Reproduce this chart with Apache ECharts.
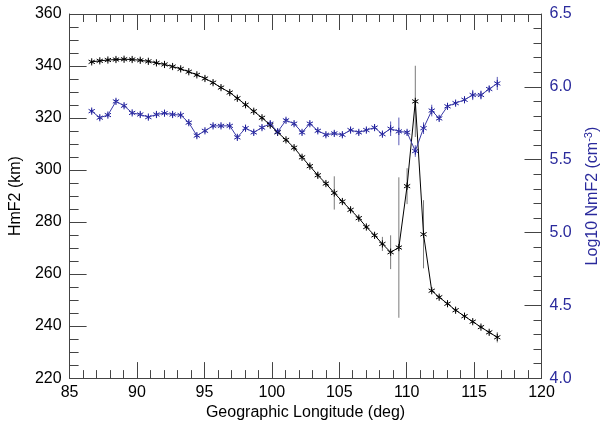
<!DOCTYPE html>
<html>
<head>
<meta charset="utf-8">
<script src="https://cdn.jsdelivr.net/npm/echarts@6/dist/echarts.min.js"></script>
<style>
html,body{margin:0;padding:0;background:#fff;}
#chart{width:609px;height:426px;}
</style>
</head>
<body>
<div id="chart"></div>
<script>
// Geographic longitude of each sample (deg)
const longitude = [86.64, 87.24, 87.84, 88.44, 89.04, 89.64, 90.24, 90.84, 91.44, 92.04,
  92.64, 93.24, 93.84, 94.44, 95.04, 95.64, 96.23, 96.88, 97.44, 98.05,
  98.66, 99.27, 99.88, 100.43, 101.05, 101.65, 102.24, 102.82, 103.41, 104.01,
  104.63, 105.23, 105.84, 106.45, 107.01, 107.62, 108.20, 108.81, 109.42, 110.03,
  110.64, 111.25, 111.86, 112.41, 113.03, 113.63, 114.29, 114.90, 115.51, 116.12, 116.72];
// HmF2 (km), left axis
const hmf2 = [341.6, 342.0, 342.3, 342.5, 342.6, 342.5, 342.2, 341.8, 341.2, 340.6,
  339.8, 338.9, 337.8, 336.6, 335.2, 333.6, 331.7, 329.8, 327.6, 325.1,
  322.6, 320.1, 317.3, 314.5, 311.6, 308.6, 304.9, 301.5, 298.0, 294.8,
  291.2, 287.9, 284.7, 281.5, 278.1, 274.9, 271.6, 268.4, 270.2, 293.8,
  326.4, 275.3, 253.6, 251.1, 248.6, 246.1, 243.8, 241.7, 239.6, 237.6, 235.7];
const hmf2Err = [0.8, 0.8, 0.8, 0.8, 0.8, 0.8, 0.8, 0.8, 0.8, 0.8,
  0.8, 0.8, 0.8, 0.8, 0.8, 0.8, 0.8, 0.8, 0.8, 0.8,
  0.8, 0.8, 0.8, 0.8, 0.8, 0.8, 0.8, 0.8, 1.2, 0.8,
  6.4, 0.8, 0.8, 0.8, 0.8, 0.8, 2.7, 6.5, 27.0, 6.9,
  13.7, 13.1, 0.8, 0.8, 0.8, 0.8, 0.8, 0.8, 0.8, 0.8, 2.0];
// Log10 NmF2 (cm^-3), right axis
const nmf2 = [5.833, 5.788, 5.806, 5.900, 5.870, 5.821, 5.810, 5.792, 5.810, 5.819,
  5.810, 5.806, 5.754, 5.665, 5.698, 5.732, 5.732, 5.732, 5.653, 5.716,
  5.687, 5.720, 5.747, 5.691, 5.770, 5.747, 5.687, 5.747, 5.698, 5.671,
  5.680, 5.671, 5.703, 5.687, 5.703, 5.720, 5.675, 5.712, 5.694, 5.687,
  5.559, 5.716, 5.837, 5.783, 5.866, 5.888, 5.911, 5.944, 5.944, 5.985, 6.023];
const nmf2Err = [0.015, 0.015, 0.015, 0.015, 0.015, 0.015, 0.015, 0.015, 0.015, 0.015,
  0.015, 0.015, 0.015, 0.015, 0.015, 0.015, 0.015, 0.015, 0.015, 0.015,
  0.015, 0.015, 0.015, 0.015, 0.015, 0.015, 0.015, 0.015, 0.015, 0.015,
  0.015, 0.015, 0.015, 0.015, 0.015, 0.015, 0.015, 0.05, 0.095, 0.015,
  0.04, 0.04, 0.04, 0.015, 0.015, 0.015, 0.015, 0.035, 0.03, 0.02, 0.045];

const BLUE = '#2a2a9c';
const BLUE_LINE = '#3a3aa8';
const FONT = 'Liberation Sans, Arial, Helvetica, sans-serif';

function makeRender(color, errColor) {
  return function (params, api) {
    const x = api.value(0), y = api.value(1), e = api.value(2);
    const c = api.coord([x, y]);
    const lo = api.coord([x, y - e]);
    const hi = api.coord([x, y + e]);
    const r = 3.6, dx = r * 0.866, dy = r * 0.5;
    const st = {stroke: color, lineWidth: 1};
    return {
      type: 'group',
      children: [
        {type: 'line', shape: {x1: c[0], y1: lo[1], x2: c[0], y2: hi[1]}, style: {stroke: errColor, lineWidth: 1}},
        {type: 'line', shape: {x1: c[0], y1: c[1] - r, x2: c[0], y2: c[1] + r}, style: st},
        {type: 'line', shape: {x1: c[0] - dx, y1: c[1] - dy, x2: c[0] + dx, y2: c[1] + dy}, style: st},
        {type: 'line', shape: {x1: c[0] - dx, y1: c[1] + dy, x2: c[0] + dx, y2: c[1] - dy}, style: st}
      ]
    };
  };
}

const axisLine = {show: true, lineStyle: {color: '#444', width: 1}};
const chart = echarts.init(document.getElementById('chart'), null, {renderer: 'canvas'});
chart.setOption({
  animation: false,
  backgroundColor: '#fff',
  textStyle: {fontFamily: FONT},
  grid: {left: 68, right: 62, top: 14, bottom: 40, containLabel: false},
  xAxis: [{
    type: 'value', position: 'bottom', min: 85, max: 120, interval: 5,
    axisLine: axisLine,
    axisTick: {show: true, inside: true, length: 16, lineStyle: {color: '#444'}},
    minorTick: {show: true, splitNumber: 5, length: 8, lineStyle: {color: '#444'}},
    splitLine: {show: false}, minorSplitLine: {show: false},
    axisLabel: {color: '#000', fontSize: 16, margin: 6, fontFamily: FONT},
    name: 'Geographic Longitude (deg)', nameLocation: 'middle', nameGap: 22,
    nameTextStyle: {color: '#000', fontSize: 16, fontFamily: FONT}
  }, {
    type: 'value', position: 'top', min: 85, max: 120, interval: 5,
    axisLine: axisLine,
    axisTick: {show: true, inside: true, length: 16, lineStyle: {color: '#444'}},
    minorTick: {show: true, splitNumber: 5, length: 8, lineStyle: {color: '#444'}},
    splitLine: {show: false},
    axisLabel: {show: false}
  }],
  yAxis: [{
    type: 'value', position: 'left', min: 220, max: 360, interval: 20,
    axisLine: axisLine,
    axisTick: {show: true, inside: true, length: 17, lineStyle: {color: '#444'}},
    minorTick: {show: true, splitNumber: 4, length: 9, lineStyle: {color: '#444'}},
    splitLine: {show: false},
    axisLabel: {color: '#000', fontSize: 16, margin: 8, fontFamily: FONT},
    name: 'HmF2 (km)', nameLocation: 'middle', nameGap: 42, nameRotate: 90,
    nameTextStyle: {color: '#000', fontSize: 16, fontFamily: FONT}
  }, {
    type: 'value', position: 'right', min: 4.0, max: 6.5, interval: 0.5,
    axisLine: axisLine,
    axisTick: {show: true, inside: true, length: 17, lineStyle: {color: '#444'}},
    minorTick: {show: true, splitNumber: 5, length: 8, lineStyle: {color: '#444'}},
    splitLine: {show: false},
    axisLabel: {color: BLUE, fontSize: 16, margin: 8, fontFamily: FONT,
      formatter: function (v) { return v.toFixed(1); }},
    name: 'Log10 NmF2 (cm{sup|-3})', nameLocation: 'middle', nameGap: 42, nameRotate: 90,
    nameTextStyle: {color: BLUE, fontSize: 16, fontFamily: FONT,
      rich: {sup: {fontSize: 11, verticalAlign: 'top', color: BLUE, fontFamily: FONT, padding: [0, 0, 8, 0]}}}
  }],
  series: [{
    type: 'line', xAxisIndex: 0, yAxisIndex: 0, showSymbol: false, silent: true,
    data: longitude.map((x, i) => [x, hmf2[i]]),
    lineStyle: {color: '#000', width: 1}
  }, {
    type: 'custom', xAxisIndex: 0, yAxisIndex: 0, silent: true,
    data: longitude.map((x, i) => [x, hmf2[i], hmf2Err[i]]),
    renderItem: makeRender('#000', '#7a7a7a')
  }, {
    type: 'line', xAxisIndex: 0, yAxisIndex: 1, showSymbol: false, silent: true,
    data: longitude.map((x, i) => [x, nmf2[i]]),
    lineStyle: {color: BLUE_LINE, width: 1}
  }, {
    type: 'custom', xAxisIndex: 0, yAxisIndex: 1, silent: true,
    data: longitude.map((x, i) => [x, nmf2[i], nmf2Err[i]]),
    renderItem: makeRender('#1a1a9a', '#5a5ab8')
  }]
});
</script>
</body>
</html>
